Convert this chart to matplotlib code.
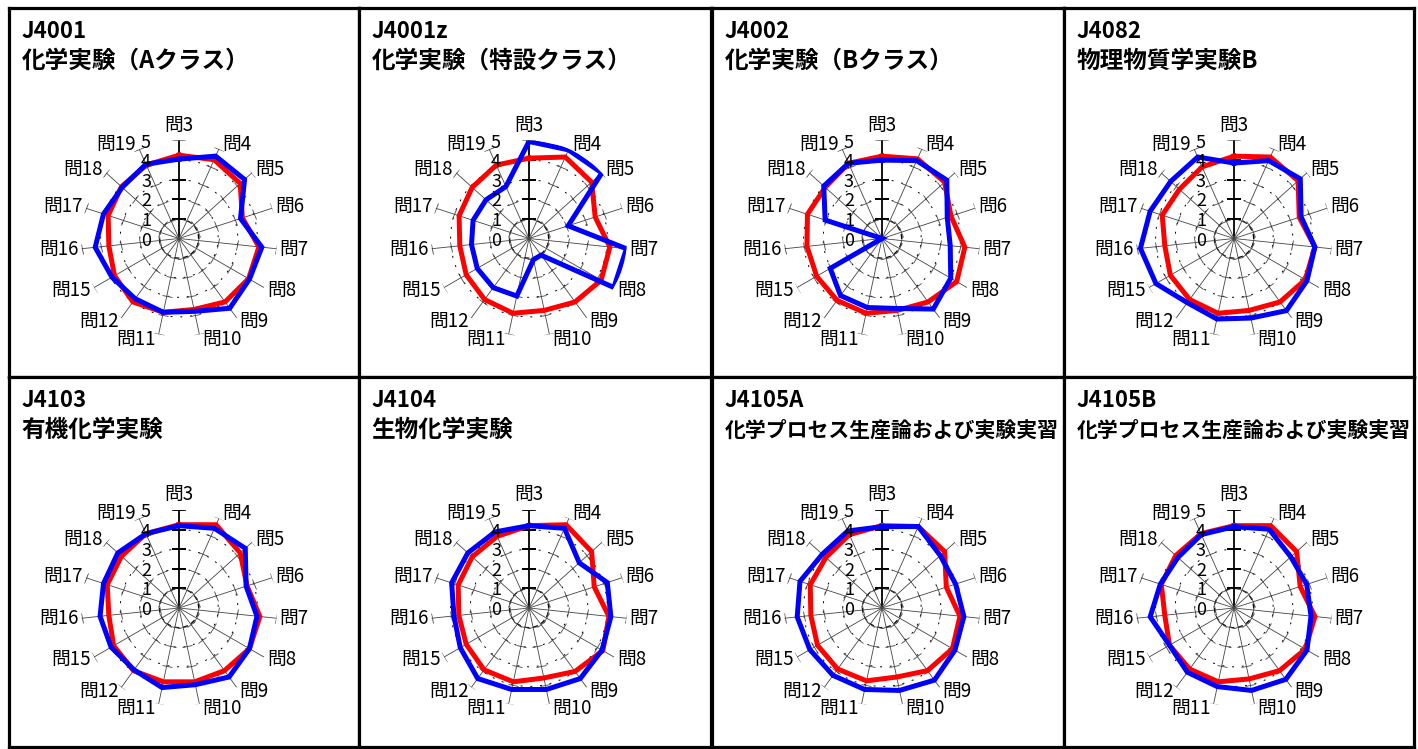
import numpy as np
import matplotlib
matplotlib.use('Agg')
import matplotlib.pyplot as plt
from matplotlib.markers import MarkerStyle
from matplotlib.transforms import Affine2D

plt.rcParams['font.family'] = ['Noto Sans CJK JP', 'DejaVu Sans']

questions = ['問3', '問4', '問5', '問6', '問7', '問8', '問9', '問10',
             '問11', '問12', '問15', '問16', '問17', '問18', '問19']
levels = [0, 1, 2, 3, 4, 5]

codes = ['J4001', 'J4001z', 'J4002', 'J4082',
         'J4103', 'J4104', 'J4105A', 'J4105B']
course_names = ['化学実験（Aクラス）', '化学実験（特設クラス）', '化学実験（Bクラス）',
                '物理物質学実験B', '有機化学実験', '生物化学実験',
                '化学プロセス生産論および実験実習', '化学プロセス生産論および実験実習']

# red / blue series for each course (order follows `questions`)
red_j4001 = [4.25, 4.4, 4.2, 3.4, 4.1, 4.1, 4.0, 3.7, 3.85, 4.0, 3.8, 3.6, 3.8, 3.95, 4.1]
blue_j4001 = [4.05, 4.6, 4.5, 3.3, 4.25, 4.15, 4.4, 3.8, 3.85, 3.8, 3.95, 4.3, 4.05, 3.9, 4.15]

red_j4001z = [4.1, 4.55, 4.3, 3.55, 4.15, 4.25, 4.0, 3.75, 3.9, 3.85, 3.7, 3.55, 3.75, 3.9, 4.1]
blue_j4001z = [4.95, 4.95, 5.0, 2.1, 5.0, 5.0, 1.05, 1.1, 3.0, 3.1, 3.05, 2.95, 3.0, 2.95, 2.9]

red_j4002 = [4.2, 4.45, 4.3, 3.7, 4.25, 4.4, 4.0, 3.75, 3.9, 3.9, 3.85, 3.85, 4.0, 3.9, 4.2]
blue_j4002 = [4.0, 4.35, 4.45, 3.5, 3.5, 4.05, 4.45, 3.65, 3.6, 3.6, 3.05, 0.0, 3.05, 4.0, 4.2]

red_j4082 = [4.2, 4.55, 4.4, 3.5, 4.15, 4.2, 4.0, 3.75, 3.9, 3.85, 3.75, 3.55, 3.85, 3.75, 4.0]
blue_j4082 = [3.85, 4.35, 4.55, 3.6, 4.15, 4.3, 4.55, 4.15, 4.2, 4.05, 4.6, 4.8, 4.5, 4.35, 4.55]

red_j4103 = [4.25, 4.65, 4.2, 3.65, 4.15, 4.15, 3.95, 3.85, 3.85, 3.95, 3.85, 3.6, 3.85, 3.95, 4.15]
blue_j4103 = [4.2, 4.45, 4.55, 3.6, 4.0, 4.15, 4.35, 4.0, 4.15, 3.9, 4.0, 4.05, 4.05, 4.2, 4.15]

red_j4104 = [4.2, 4.65, 4.3, 3.5, 4.1, 4.35, 4.0, 3.65, 3.85, 3.9, 3.7, 3.6, 3.8, 3.9, 4.0]
blue_j4104 = [4.2, 4.45, 3.45, 4.2, 4.2, 4.3, 4.45, 4.25, 4.25, 4.45, 4.05, 3.85, 4.15, 4.2, 4.25]

red_j4105a = [4.2, 4.55, 4.3, 3.45, 4.0, 4.15, 3.95, 3.6, 3.8, 3.85, 3.8, 3.65, 3.85, 3.85, 4.1]
blue_j4105a = [4.15, 4.55, 4.0, 3.95, 4.2, 4.3, 4.55, 4.3, 4.25, 4.25, 4.25, 4.35, 4.4, 4.1, 4.3]

red_j4105b = [4.2, 4.6, 4.3, 3.55, 4.15, 4.2, 3.95, 3.7, 3.85, 3.85, 3.8, 3.55, 3.9, 4.0, 4.15]
blue_j4105b = [4.15, 4.4, 3.9, 3.9, 3.95, 4.3, 4.5, 4.3, 4.1, 4.05, 3.8, 4.3, 3.95, 3.85, 4.1]

red_series = [red_j4001, red_j4001z, red_j4002, red_j4082,
              red_j4103, red_j4104, red_j4105a, red_j4105b]
blue_series = [blue_j4001, blue_j4001z, blue_j4002, blue_j4082,
               blue_j4103, blue_j4104, blue_j4105a, blue_j4105b]

W, H = 1418, 749
col_edges = [8.5, 358.5, 711.5, 1063.5, 1413.5]
row_edges = [7.5, 377, 747]
R = 98  # radius of the value 5 ring, pixels

fig = plt.figure(figsize=(W / 100, H / 100), dpi=100)

n = len(questions)
angles = np.linspace(0, 2 * np.pi, n, endpoint=False)
angles_closed = np.append(angles, angles[0])
ring = np.linspace(0, 2 * np.pi, 181)

for i in range(8):
    row, col = divmod(i, 4)
    x0, x1 = col_edges[col], col_edges[col + 1]
    y0, y1 = row_edges[row], row_edges[row + 1]

    # panel frame
    frame = fig.add_axes([x0 / W, 1 - y1 / H, (x1 - x0) / W, (y1 - y0) / H])
    frame.set_xticks([])
    frame.set_yticks([])
    for s in frame.spines.values():
        s.set_linewidth(2.3)
        s.set_color('black')

    # titles
    fig.text((x0 + 13) / W, 1 - (y0 + 23.5) / H, codes[i], fontsize=16,
             fontweight='bold', va='center', ha='left')
    fs2 = 15 if len(course_names[i]) > 12 else 17
    fig.text((x0 + 13) / W, 1 - (y0 + 53) / H, course_names[i], fontsize=fs2,
             fontweight='bold', va='center', ha='left')

    # radar
    cx, cy = x0 + 170.5, y0 + 231
    ax = fig.add_axes([(cx - R) / W, 1 - (cy + R) / H, 2 * R / W, 2 * R / H],
                      projection='polar')
    ax.set_theta_zero_location('N')
    ax.set_theta_direction(-1)
    ax.set_ylim(0, 5)
    ax.set_xticks([])
    ax.set_yticks([2, 3, 4])
    ax.set_yticklabels([])
    ax.tick_params(length=0)
    ax.xaxis.grid(False)
    ax.yaxis.grid(True, color='black', lw=0.7, linestyle=(0, (2, 8)))
    ax.spines['polar'].set_visible(False)
    ax.patch.set_visible(False)

    # innermost ring, denser dash
    ax.plot(ring, np.full(ring.size, levels[1]), color='black', lw=0.9,
            linestyle=(0, (4, 3)), zorder=1)

    for k, th in enumerate(angles):
        deg = np.degrees(th)
        main = k == 0
        ax.plot([th, th], [0, 5], color='black' if main else '#444444',
                lw=1.3 if main else 0.6, zorder=2)
        tick = MarkerStyle('_', transform=Affine2D().rotate_deg(-deg))
        ax.plot([th] * 5, levels[1:], ls='none', marker=tick,
                ms=9.5 if main else 7.5, mew=1.2 if main else 0.6,
                color='black' if main else '#444444', zorder=2)

        if k == 0:
            ax.annotate(questions[k], xy=(th, 5), xytext=(0, 5),
                        textcoords='offset pixels', ha='center', va='bottom',
                        fontsize=13.5, zorder=6)
        else:
            side = 1 if deg < 180 else -1
            ax.annotate(questions[k], xy=(th, 5),
                        xytext=(3 * side, 5 * np.cos(th)),
                        textcoords='offset pixels',
                        ha='left' if side > 0 else 'right', va='center',
                        fontsize=13.5, zorder=6)

    ax.plot(angles_closed, np.append(red_series[i], red_series[i][0]),
            color='#ff0000', lw=3.6, solid_joinstyle='miter', zorder=3)
    ax.plot(angles_closed, np.append(blue_series[i], blue_series[i][0]),
            color='#0000ff', lw=3.6, solid_joinstyle='miter', zorder=4)

    for v in levels:
        ax.annotate(str(v), xy=(0, v), xytext=(-33, -2),
                    textcoords='offset pixels', ha='center', va='center',
                    fontsize=13, zorder=6)

fig.savefig('out.png', dpi=100, facecolor='white')
